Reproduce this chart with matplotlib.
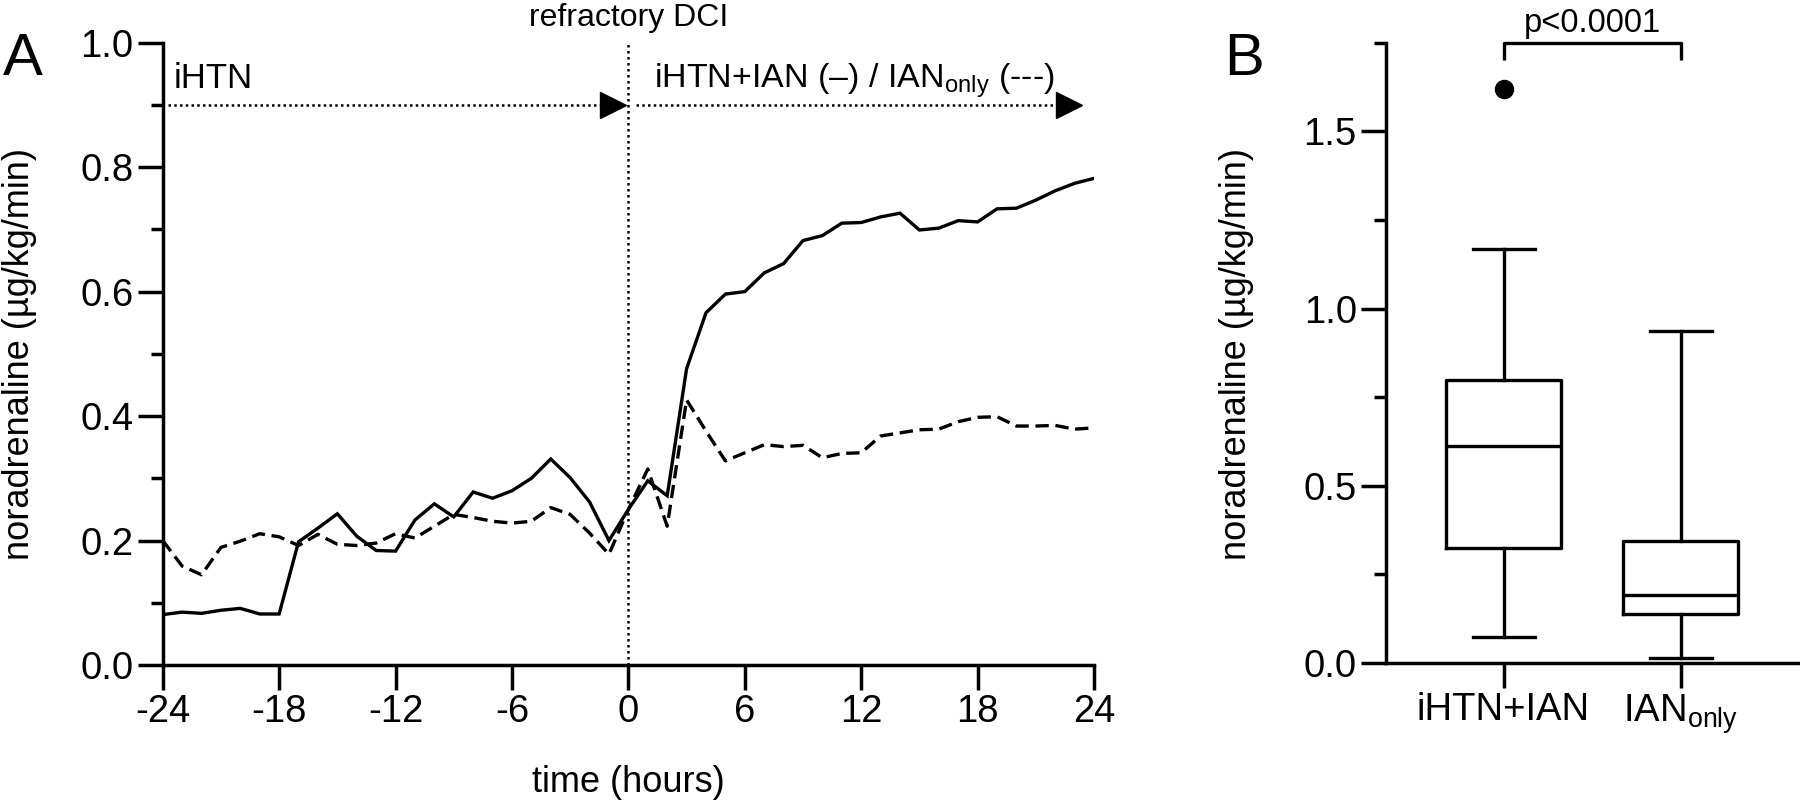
import matplotlib
matplotlib.use("Agg")
import matplotlib.pyplot as plt
from matplotlib.ticker import MultipleLocator, FormatStrFormatter

plt.rcParams['font.family'] = ['Liberation Sans', 'DejaVu Sans']
plt.rcParams['mathtext.fontset'] = 'custom'
plt.rcParams['mathtext.rm'] = 'Liberation Sans'
plt.rcParams['axes.unicode_minus'] = False

# ============================================================
# 1. data
# ============================================================
hours = list(range(-24, 25))

iHTN_IAN = [0.081, 0.085, 0.083, 0.088, 0.091, 0.082, 0.082, 0.198, 0.220, 0.243,
            0.207, 0.184, 0.183, 0.233, 0.259, 0.238, 0.278, 0.268, 0.280, 0.300,
            0.331, 0.301, 0.262, 0.200, 0.250, 0.296, 0.272, 0.476, 0.566, 0.596,
            0.600, 0.630, 0.645, 0.682, 0.690, 0.710, 0.711, 0.720, 0.726, 0.699,
            0.702, 0.714, 0.712, 0.733, 0.734, 0.747, 0.762, 0.774, 0.782]

IAN_only = [0.200, 0.159, 0.145, 0.189, 0.199, 0.211, 0.206, 0.192, 0.210, 0.194,
            0.192, 0.196, 0.211, 0.204, 0.223, 0.242, 0.237, 0.231, 0.228, 0.231,
            0.253, 0.242, 0.212, 0.178, 0.250, 0.315, 0.223, 0.426, 0.376, 0.328,
            0.341, 0.354, 0.351, 0.353, 0.333, 0.340, 0.341, 0.368, 0.373, 0.378,
            0.379, 0.391, 0.398, 0.399, 0.384, 0.384, 0.385, 0.379, 0.381]

# box plot summaries (panel B)
box_labels = ["iHTN+IAN", r"IAN$\mathregular{_{only}}$"]
box_whislo = [0.073, 0.015]
box_q1     = [0.324, 0.139]
box_med    = [0.613, 0.193]
box_q3     = [0.797, 0.345]
box_whishi = [1.169, 0.936]
box_fliers = [[1.62], []]

p_text = "p<0.0001"

# ============================================================
# 2. figure
# ============================================================
fig = plt.figure(figsize=(18, 8.02), dpi=100)
axA = fig.add_axes([0.0904, 0.1708, 0.5174, 0.776])
axB = fig.add_axes([0.77, 0.1733, 0.23, 0.7735])

LW = 2.5
TICK = 27.5

for ax in (axA, axB):
    for s in ("top", "right"):
        ax.spines[s].set_visible(False)
    for s in ("left", "bottom"):
        ax.spines[s].set_linewidth(LW)
    ax.tick_params(which="major", direction="out", length=18, width=LW,
                   labelsize=TICK, pad=3)
    ax.tick_params(which="minor", direction="out", length=8.6, width=LW)

# ── panel A ──
axA.plot(hours, iHTN_IAN, color="black", lw=2.4, solid_joinstyle="miter")
axA.plot(hours, IAN_only, color="black", lw=2.4, linestyle=(0, (4, 2)))

axA.set_xlim(-24, 24)
axA.set_ylim(0, 1.0)
axA.xaxis.set_major_locator(MultipleLocator(6))
axA.yaxis.set_major_locator(MultipleLocator(0.2))
axA.yaxis.set_minor_locator(MultipleLocator(0.1))
axA.yaxis.set_major_formatter(FormatStrFormatter("%.1f"))

# refractory DCI marker
axA.axvline(0, ymin=0, ymax=1, color="black", lw=1.8, linestyle=(0, (1, 1.4)))
axA.text(0, 1.0 + 17 / 622, "refractory DCI", ha="center", va="baseline",
         fontsize=23, clip_on=False)

# phase arrows
arrow_y = 0.9
axA.plot([-23.75, -1.3], [arrow_y, arrow_y], color="black", lw=1.8,
         linestyle=(0, (1, 1.3)))
axA.plot([-0.8], [arrow_y], marker=">", ms=19, color="black", clip_on=False)
axA.plot([0.4, 22.1], [arrow_y, arrow_y], color="black", lw=1.8,
         linestyle=(0, (1, 1.3)))
axA.plot([22.7], [arrow_y], marker=">", ms=19, color="black", clip_on=False)

axA.text(-23.45, 0.927, "iHTN", fontsize=25, va="baseline")
axA.text(1.3, 0.927, r"iHTN+IAN (–) / IAN$\mathregular{_{only}}$ (---)",
         fontsize=24.5, va="baseline")

fig.text(628 / 1800, 1 - 782 / 802, "time (hours)", ha="center", va="center",
         fontsize=26)
fig.text(20 / 1800, 1 - 354 / 802, "noradrenaline (µg/kg/min)", rotation=90,
         ha="center", va="center", fontsize=26)

# ── panel B ──
stats = []
for i in range(2):
    stats.append(dict(whislo=box_whislo[i], q1=box_q1[i], med=box_med[i],
                      q3=box_q3[i], whishi=box_whishi[i], fliers=box_fliers[i]))

axB.bxp(stats, positions=[1, 2], widths=0.65, capwidths=0.35,
        boxprops=dict(color="black", lw=2.4),
        medianprops=dict(color="black", lw=2.4),
        whiskerprops=dict(color="black", lw=2.4),
        capprops=dict(color="black", lw=2.4),
        flierprops=dict(marker="o", markerfacecolor="black",
                        markeredgecolor="black", markersize=13))

axB.set_xlim(0.336, 2.675)
axB.set_ylim(0, 1.75)
axB.set_xticks([1, 2])
axB.set_xticklabels(box_labels)
axB.yaxis.set_major_locator(MultipleLocator(0.5))
axB.yaxis.set_minor_locator(MultipleLocator(0.25))
axB.yaxis.set_major_formatter(FormatStrFormatter("%.1f"))

# significance bracket
axB.plot([1, 1, 2, 2], [1.70, 1.75, 1.75, 1.70], color="black", lw=2.4,
         clip_on=False, solid_capstyle="butt")
axB.text(1.5, 1.75 + 11 / 354, p_text, ha="center", va="baseline",
         fontsize=23.5, clip_on=False)

fig.text(1237 / 1800, 1 - 354 / 802, "noradrenaline (µg/kg/min)", rotation=90,
         ha="center", va="center", fontsize=26)

# panel letters
fig.text(3 / 1800, 1 - 75 / 802, "A", fontsize=43, va="baseline")
fig.text(1224 / 1800, 1 - 75 / 802, "B", fontsize=43, va="baseline")

fig.savefig("out.png", dpi=100)
